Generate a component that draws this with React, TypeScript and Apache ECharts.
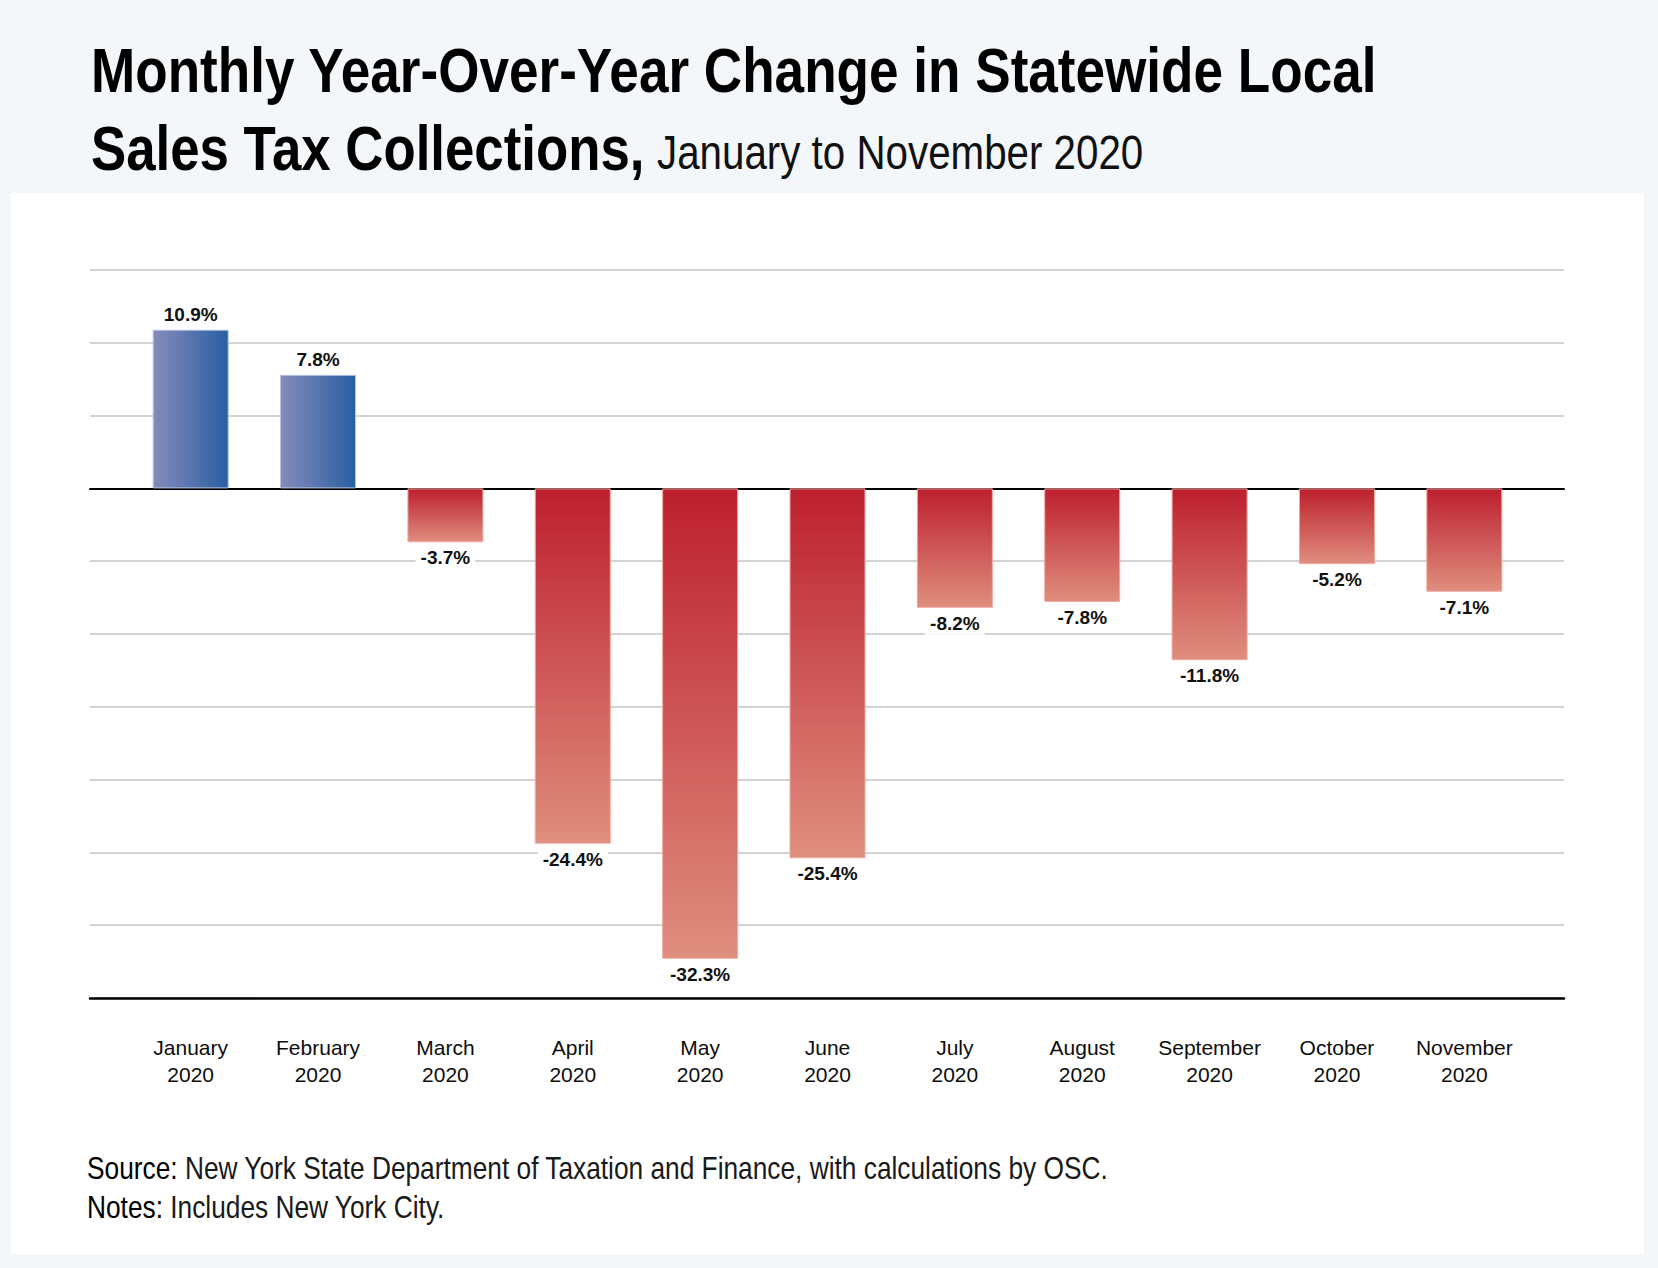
import React, { useEffect, useRef } from "react";
import * as echarts from "echarts";

const months = ["January", "February", "March", "April", "May", "June", "July", "August", "September", "October", "November"];
const yearLabel = "2020";
const changes = [10.9, 7.8, -3.7, -24.4, -32.3, -25.4, -8.2, -7.8, -11.8, -5.2, -7.1];
const yMin = -35;
const yMax = 15;
const yStep = 5;

const titleLine1 = "Monthly Year-Over-Year Change in Statewide Local";
const titleLine2 = "Sales Tax Collections,";
const subtitle = "January to November 2020";
const sourceLabel = "Source:";
const sourceText = "New York State Department of Taxation and Finance, with calculations by OSC.";
const notesLabel = "Notes:";
const notesText = "Includes New York City.";

const SANS = "'Liberation Sans', Arial, Helvetica, sans-serif";

export default function App() {
  const ref = useRef<HTMLDivElement>(null);
  useEffect(() => {
    document.body.style.margin = "0";
    document.body.style.overflow = "hidden";
    if (!ref.current) return;
    const chart = echarts.init(ref.current, undefined, { renderer: "svg" });

    const blue = new echarts.graphic.LinearGradient(0, 0, 1, 0, [
      { offset: 0, color: "#868bba" },
      { offset: 1, color: "#295ea3" },
    ]);
    const red = new echarts.graphic.LinearGradient(0, 0, 0, 1, [
      { offset: 0, color: "#bd1f2e" },
      { offset: 1, color: "#df8e7e" },
    ]);

    const barData = changes.map((v) => ({
      value: v,
      itemStyle: {
        color: v >= 0 ? blue : red,
        borderColor: v >= 0 ? "#b4c4e2" : "#eeaaa0",
        borderWidth: 1,
      },
      label: { position: v >= 0 ? "top" : "bottom" },
    }));

    const option: any = {
      animation: false,
      backgroundColor: "#f3f7fa",
      graphic: [
        {
          type: "rect",
          z: -10,
          shape: { x: 11, y: 193, width: 1633, height: 1061 },
          style: { fill: "#ffffff" },
          silent: true,
        },
        {
          type: "text",
          x: 91,
          y: 70,
          scaleX: 0.843,
          style: { text: titleLine1, font: `bold 63px ${SANS}`, fill: "#000", verticalAlign: "middle", align: "left" },
        },
        {
          type: "text",
          x: 91,
          y: 148,
          scaleX: 0.838,
          style: { text: titleLine2, font: `bold 63px ${SANS}`, fill: "#000", verticalAlign: "middle", align: "left" },
        },
        {
          type: "text",
          x: 657,
          y: 152,
          scaleX: 0.823,
          style: { text: subtitle, font: `normal 49px ${SANS}`, fill: "#111", verticalAlign: "middle", align: "left" },
        },
        {
          type: "text",
          x: 87,
          y: 1168,
          scaleX: 0.848,
          style: {
            text: `{a|${sourceLabel}} ${sourceText}`,
            font: `normal 31px ${SANS}`,
            fill: "#1a1a1a",
            verticalAlign: "middle",
            align: "left",
            rich: { a: { font: `normal 31px ${SANS}`, fill: "#000" } },
          },
        },
        {
          type: "text",
          x: 87,
          y: 1207,
          scaleX: 0.848,
          style: {
            text: `{a|${notesLabel}} ${notesText}`,
            font: `normal 31px ${SANS}`,
            fill: "#1a1a1a",
            verticalAlign: "middle",
            align: "left",
            rich: { a: { font: `normal 31px ${SANS}`, fill: "#000" } },
          },
        },
      ],
      grid: [
        { left: 90, right: 94, top: 270, bottom: 270 },
        { left: 127, right: 130, top: 270, bottom: 270 },
      ],
      xAxis: [
        {
          gridIndex: 0,
          type: "category",
          data: months,
          position: "bottom",
          axisLine: { show: true, onZero: false, lineStyle: { color: "#000", width: 2.5 } },
          axisTick: { show: false },
          axisLabel: { show: false },
          splitLine: { show: false },
        },
        {
          gridIndex: 0,
          type: "category",
          data: months,
          position: "top",
          axisLine: { show: true, onZero: true, lineStyle: { color: "#000", width: 2 } },
          axisTick: { show: false },
          axisLabel: { show: false },
          splitLine: { show: false },
        },
        {
          gridIndex: 1,
          type: "category",
          data: months,
          axisLine: { show: false },
          axisTick: { show: false },
          axisLabel: {
            show: true,
            interval: 0,
            margin: 36,
            color: "#0d0d0d",
            fontFamily: SANS,
            fontSize: 21,
            lineHeight: 27,
            formatter: (m: string) => `${m}\n${yearLabel}`,
          },
        },
      ],
      yAxis: [
        {
          gridIndex: 0,
          type: "value",
          min: yMin,
          max: yMax,
          interval: yStep,
          axisLine: { show: false },
          axisTick: { show: false },
          axisLabel: { show: false },
          splitLine: { show: true, lineStyle: { color: "#c4c4c4", width: 1.5 } },
        },
        {
          gridIndex: 1,
          type: "value",
          min: yMin,
          max: yMax,
          interval: yStep,
          show: false,
          splitLine: { show: false },
        },
      ],
      series: [
        {
          type: "bar",
          xAxisIndex: 0,
          yAxisIndex: 0,
          data: months.map(() => null),
          silent: true,
        },
        {
          type: "bar",
          xAxisIndex: 2,
          yAxisIndex: 1,
          barWidth: 76,
          data: barData,
          label: {
            show: true,
            formatter: (p: any) => `${Number(p.value).toFixed(1)}%`,
            fontFamily: SANS,
            fontWeight: "bold",
            fontSize: 19,
            color: "#111",
            backgroundColor: "#ffffff",
            padding: [2, 5],
            distance: 4,
          },
        },
      ],
    };
    chart.setOption(option);
    return () => chart.dispose();
  }, []);
  return <div ref={ref} style={{ width: 1658, height: 1268 }} />;
}
